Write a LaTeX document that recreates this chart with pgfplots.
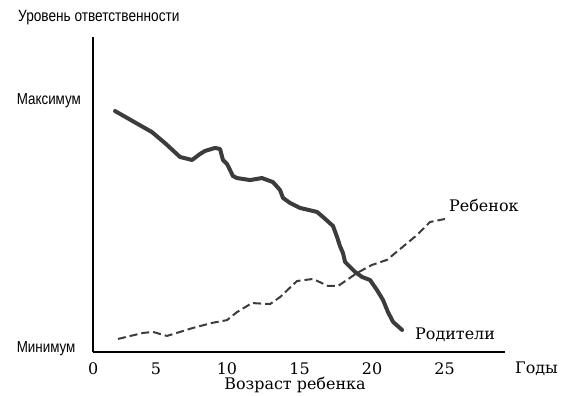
\documentclass[border=0pt]{standalone}
\usepackage{pgfplots}
\pgfplotsset{compat=1.18}
\usepackage{fontspec}
\setmainfont{DejaVu Serif}
\newfontfamily\sansf[FakeStretch=0.84]{Liberation Sans}
\definecolor{curve}{HTML}{3C3C3C}

\pgfplotstableread{
x y
2.28 0.960
4.83 0.876
5.79 0.829
6.76 0.777
7.59 0.765
8.14 0.789
8.48 0.801
9.17 0.813
9.52 0.809
9.72 0.765
10.0 0.749
10.21 0.725
10.41 0.701
10.69 0.693
11.59 0.685
12.41 0.693
13.17 0.677
13.66 0.645
13.86 0.614
14.34 0.594
15.03 0.574
16.21 0.558
16.62 0.538
17.31 0.502
17.59 0.458
17.79 0.422
18.0 0.394
18.14 0.359
18.83 0.319
19.31 0.299
19.86 0.287
20.34 0.247
20.76 0.207
21.10 0.159
21.45 0.120
22.07 0.088
}\parents

\pgfplotstableread{
x y
2.48 0.052
4.21 0.076
4.90 0.080
5.86 0.064
6.76 0.080
7.66 0.096
8.97 0.116
10.0 0.127
10.69 0.159
11.72 0.195
12.97 0.191
13.66 0.219
14.83 0.283
15.93 0.291
16.97 0.263
17.66 0.263
18.97 0.315
20.0 0.347
21.03 0.367
21.93 0.410
23.10 0.466
24.0 0.518
25.03 0.530
}\child

\begin{document}
\begin{tikzpicture}[x=1bp,y=1bp,font=\fontsize{16}{19}\selectfont]
\useasboundingbox (0,0) rectangle (566,395);
\begin{axis}[
  at={(93bp,43bp)}, anchor=south west,
  scale only axis, width=412bp, height=315bp,
  xmin=0.76, xmax=29.17, ymin=0, ymax=1.255,
  axis x line=bottom, axis y line=left,
  axis line style={-, line width=1.8pt, black},
  major tick length=0pt,
  xtick={0.77,5.10,10,15,20,25},
  xticklabels={0,5,10,15,20,25},
  ytick={0.012,1},
  yticklabels={Минимум,Максимум},
  /pgf/number format/assume math mode=true,
  xticklabel style={font=\fontsize{16}{19}\selectfont, yshift=-7bp},
  yticklabel style={font=\sansf\fontsize{16}{18}\selectfont, inner sep=0pt, text width=70bp, align=left, xshift=-6bp},
  clip=false,
]
\addplot[curve, line width=4bp, line join=round, line cap=round] table[x=x,y=y] {\parents};
\addplot[curve, line width=2bp, dash pattern=on 8bp off 4bp] table[x=x,y=y] {\child};
\end{axis}
\node[anchor=west, inner sep=0pt, font=\sansf\fontsize{16.3}{18}\selectfont] at (18,377) {Уровень ответственности};
\node[anchor=west, inner sep=0pt] at (449,190) {Ребенок};
\node[anchor=west, inner sep=0pt] at (415,60) {Родители};
\node[anchor=west, inner sep=0pt] at (515,26) {Годы};
\node[inner sep=0pt] at (295,10) {Возраст ребенка};
\end{tikzpicture}
\end{document}
